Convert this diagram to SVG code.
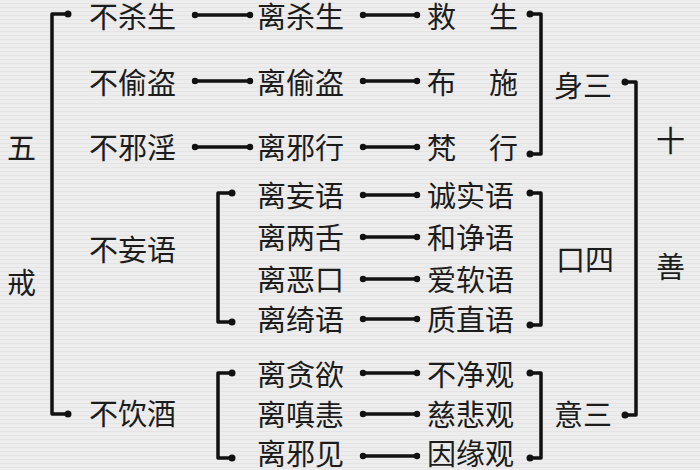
<svg xmlns="http://www.w3.org/2000/svg" width="700" height="470" viewBox="0 0 700 470">
<defs>
<style>
text{font-family:"Noto Sans CJK SC","Noto Sans CJK TC",sans-serif;font-size:29px;fill:#1c1c1c}
.ln{stroke:#111;stroke-width:3.5;fill:none;stroke-linecap:round;stroke-linejoin:round}
.dot{fill:#111}
</style>
<pattern id="tex" width="4" height="4" patternUnits="userSpaceOnUse"><rect width="4" height="4" fill="#ededed"/><rect y="3" width="4" height="1" fill="#e4e4e4"/></pattern>
</defs>
<rect width="700" height="470" fill="url(#tex)"/>
<g id="connectors">
<path class="ln" d="M68,14 H52 V414 H68"/>
<circle class="dot" cx="68" cy="14" r="3.5"/><circle class="dot" cx="68" cy="414" r="3.5"/>
<path class="ln" d="M530,14 H541 V154 H530"/>
<circle class="dot" cx="530" cy="14" r="3.5"/><circle class="dot" cx="530" cy="154" r="3.5"/>
<path class="ln" d="M625,82 H636 V415 H625"/>
<circle class="dot" cx="625" cy="82" r="3.5"/><circle class="dot" cx="625" cy="415" r="3.5"/>
<path class="ln" d="M232,193 H218 V322 H232"/>
<circle class="dot" cx="232" cy="193" r="3.5"/><circle class="dot" cx="232" cy="322" r="3.5"/>
<path class="ln" d="M530,193 H541 V325 H530"/>
<circle class="dot" cx="530" cy="193" r="3.5"/><circle class="dot" cx="530" cy="325" r="3.5"/>
<path class="ln" d="M232,373 H218 V458 H232"/>
<circle class="dot" cx="232" cy="373" r="3.5"/><circle class="dot" cx="232" cy="458" r="3.5"/>
<path class="ln" d="M530,373 H541 V458 H530"/>
<circle class="dot" cx="530" cy="373" r="3.5"/><circle class="dot" cx="530" cy="458" r="3.5"/>
<g>
<line class="ln" x1="195" y1="15" x2="250" y2="15"/><circle class="dot" cx="195" cy="15" r="3.2"/><circle class="dot" cx="250" cy="15" r="3.2"/>
<line class="ln" x1="195" y1="81" x2="250" y2="81"/><circle class="dot" cx="195" cy="81" r="3.2"/><circle class="dot" cx="250" cy="81" r="3.2"/>
<line class="ln" x1="195" y1="147" x2="250" y2="147"/><circle class="dot" cx="195" cy="147" r="3.2"/><circle class="dot" cx="250" cy="147" r="3.2"/>
<line class="ln" x1="363" y1="15" x2="417" y2="15"/><circle class="dot" cx="363" cy="15" r="3.2"/><circle class="dot" cx="417" cy="15" r="3.2"/>
<line class="ln" x1="363" y1="81" x2="417" y2="81"/><circle class="dot" cx="363" cy="81" r="3.2"/><circle class="dot" cx="417" cy="81" r="3.2"/>
<line class="ln" x1="363" y1="147" x2="417" y2="147"/><circle class="dot" cx="363" cy="147" r="3.2"/><circle class="dot" cx="417" cy="147" r="3.2"/>
<line class="ln" x1="363" y1="195" x2="417" y2="195"/><circle class="dot" cx="363" cy="195" r="3.2"/><circle class="dot" cx="417" cy="195" r="3.2"/>
<line class="ln" x1="363" y1="237" x2="417" y2="237"/><circle class="dot" cx="363" cy="237" r="3.2"/><circle class="dot" cx="417" cy="237" r="3.2"/>
<line class="ln" x1="363" y1="279" x2="417" y2="279"/><circle class="dot" cx="363" cy="279" r="3.2"/><circle class="dot" cx="417" cy="279" r="3.2"/>
<line class="ln" x1="363" y1="319" x2="417" y2="319"/><circle class="dot" cx="363" cy="319" r="3.2"/><circle class="dot" cx="417" cy="319" r="3.2"/>
<line class="ln" x1="363" y1="373" x2="417" y2="373"/><circle class="dot" cx="363" cy="373" r="3.2"/><circle class="dot" cx="417" cy="373" r="3.2"/>
<line class="ln" x1="363" y1="414" x2="417" y2="414"/><circle class="dot" cx="363" cy="414" r="3.2"/><circle class="dot" cx="417" cy="414" r="3.2"/>
<line class="ln" x1="363" y1="456" x2="417" y2="456"/><circle class="dot" cx="363" cy="456" r="3.2"/><circle class="dot" cx="417" cy="456" r="3.2"/>
</g>
</g>
<g id="wujie-wu"><text x="7" y="159">五</text></g>
<g id="wujie-jie"><text x="7" y="294">戒</text></g>
<g id="shi"><text x="656" y="152">十</text></g>
<g id="shan"><text x="656" y="278">善</text></g>
<g id="bushasheng"><text x="89" y="28">不杀生</text></g>
<g id="butoudao"><text x="89" y="94">不偷盗</text></g>
<g id="buxieyin"><text x="89" y="159">不邪淫</text></g>
<g id="buwangyu"><text x="89" y="261">不妄语</text></g>
<g id="buyinjiu"><text x="89" y="425">不饮酒</text></g>
<g id="lishasheng"><text x="257" y="28">离杀生</text></g>
<g id="litoudao"><text x="257" y="94">离偷盗</text></g>
<g id="lixiexing"><text x="257" y="159">离邪行</text></g>
<g id="liwangyu"><text x="257" y="207">离妄语</text></g>
<g id="liliangshe"><text x="257" y="249">离两舌</text></g>
<g id="lieekou"><text x="257" y="291">离恶口</text></g>
<g id="liqiyu"><text x="257" y="331">离绮语</text></g>
<g id="litanyu"><text x="257" y="386">离贪欲</text></g>
<g id="lichenhui"><text x="257" y="426">离嗔恚</text></g>
<g id="lixiejian"><text x="257" y="465">离邪见</text></g>
<g id="jiusheng"><text x="427" y="28">救</text><text x="489" y="28">生</text></g>
<g id="bushi"><text x="427" y="94">布</text><text x="489" y="94">施</text></g>
<g id="fanxing"><text x="427" y="159">梵</text><text x="489" y="159">行</text></g>
<g id="chengshiyu"><text x="427" y="207">诚实语</text></g>
<g id="hejingyu"><text x="427" y="249">和诤语</text></g>
<g id="airuanyu"><text x="427" y="291">爱软语</text></g>
<g id="zhizhiyu"><text x="427" y="331">质直语</text></g>
<g id="bujingguan"><text x="427" y="386">不净观</text></g>
<g id="cibeiguan"><text x="427" y="426">慈悲观</text></g>
<g id="yinyuanguan"><text x="427" y="465">因缘观</text></g>
<g id="shensan"><text x="554" y="97">身三</text></g>
<g id="kousi"><text x="556" y="271">口四</text></g>
<g id="yisan"><text x="554" y="426">意三</text></g>
</svg>
